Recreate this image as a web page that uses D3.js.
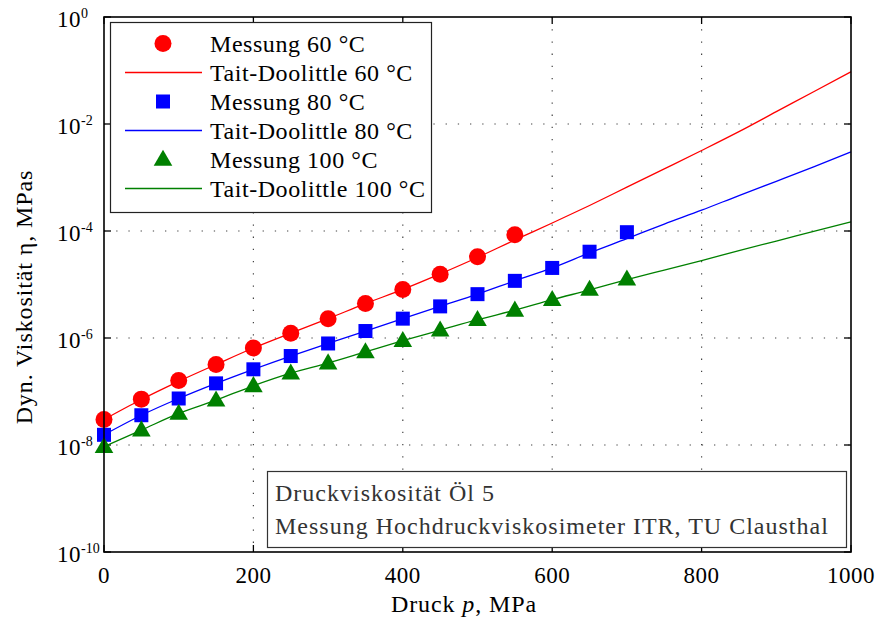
<!DOCTYPE html>
<html>
<head>
<meta charset="utf-8">
<script src="https://cdn.jsdelivr.net/npm/d3@7"></script>
<style>
    body { margin: 0; background: #fff; }
    svg text { font-family: "Palatino Linotype", "Book Antiqua", Palatino, "Liberation Serif", serif; fill: #000; }
    .label { font-size: 24px; letter-spacing: 0.9px; }
    .legend-label { font-size: 24px; letter-spacing: 0.55px; }
    .info-label { font-size: 24px; letter-spacing: 1px; }
    .tick-label { font-size: 23px; letter-spacing: 0.5px; }
    .grid line { stroke: #444; stroke-width: 1.2; stroke-dasharray: 1.3 10.9; }
</style>
</head>
<body>
<svg id="chart" width="876" height="624"></svg>
<script>
// measured points (pressure in MPa, viscosity in MPas)
const pMeas60 = [0, 50, 100, 150, 200, 250, 300, 350, 400, 450, 500, 550]
const etaMeas60 = [3.0e-8, 7.2e-8, 1.6e-7, 3.2e-7, 6.5e-7, 1.23e-6, 2.3e-6, 4.4e-6, 8.1e-6, 1.55e-5, 3.3e-5, 8.5e-5]

const pMeas80 = [0, 50, 100, 150, 200, 250, 300, 350, 400, 450, 500, 550, 600, 650, 700]
const etaMeas80 = [1.55e-8, 3.6e-8, 7.4e-8, 1.42e-7, 2.6e-7, 4.6e-7, 7.9e-7, 1.35e-6, 2.3e-6, 3.9e-6, 6.6e-6, 1.17e-5, 2.04e-5, 4.1e-5, 9.5e-5]

const pMeas100 = [0, 50, 100, 150, 200, 250, 300, 350, 400, 450, 500, 550, 600, 650, 700]
const etaMeas100 = [9.3e-9, 1.9e-8, 3.9e-8, 6.9e-8, 1.28e-7, 2.2e-7, 3.4e-7, 5.5e-7, 8.9e-7, 1.4e-6, 2.2e-6, 3.3e-6, 5.2e-6, 8.1e-6, 1.26e-5]

const pModel = [0, 50, 100, 150, 200, 250, 300, 350, 400, 450, 500, 550, 600, 650, 700, 750, 800, 850, 900, 950, 1000]
const etaModel60 = [3.0e-8, 7.1e-8, 1.55e-7, 3.2e-7, 6.5e-7, 1.23e-6, 2.3e-6, 4.4e-6, 8.1e-6, 1.58e-5, 3.2e-5, 6.8e-5, 1.41e-4, 3.0e-4, 6.6e-4, 1.45e-3, 3.2e-3, 7.2e-3, 1.7e-2, 4.0e-2, 9.5e-2]
const etaModel80 = [1.55e-8, 3.6e-8, 7.4e-8, 1.42e-7, 2.6e-7, 4.6e-7, 7.9e-7, 1.35e-6, 2.3e-6, 3.9e-6, 6.6e-6, 1.17e-5, 2.04e-5, 3.9e-5, 7.2e-5, 1.35e-4, 2.45e-4, 4.6e-4, 8.5e-4, 1.58e-3, 3.0e-3]
const etaModel100 = [9.3e-9, 1.9e-8, 3.9e-8, 6.9e-8, 1.28e-7, 2.2e-7, 3.4e-7, 5.5e-7, 8.9e-7, 1.4e-6, 2.2e-6, 3.3e-6, 5.2e-6, 7.9e-6, 1.23e-5, 1.86e-5, 2.8e-5, 4.3e-5, 6.5e-5, 9.8e-5, 1.48e-4]

const xTicks = [0, 200, 400, 600, 800, 1000]
const yTicks = [1e0, 1e-2, 1e-4, 1e-6, 1e-8, 1e-10]
const yExponents = ["0", "-2", "-4", "-6", "-8", "-10"]

const legendLabels = ["Messung 60 °C", "Tait-Doolittle 60 °C", "Messung 80 °C", "Tait-Doolittle 80 °C", "Messung 100 °C", "Tait-Doolittle 100 °C"]
const infoLines = ["Druckviskosität Öl 5", "Messung Hochdruckviskosimeter ITR, TU Clausthal"]

const red = "#ff0000", blue = "#0000ff", green = "#008000"

const svg = d3.select("#chart")
const plotLeft = 104, plotRight = 851, plotTop = 17, plotBottom = 552

const x = d3.scaleLinear().domain([0, 1000]).range([plotLeft, plotRight])
const y = d3.scaleLog().domain([1e-10, 1]).range([plotBottom, plotTop])

// dotted grid
const grid = svg.append("g").attr("class", "grid")
grid.selectAll(".gx").data(xTicks.slice(1, -1)).enter().append("line")
    .attr("x1", d => x(d)).attr("x2", d => x(d))
    .attr("y1", plotTop).attr("y2", plotBottom)
grid.selectAll(".gy").data(yTicks.slice(1, -1)).enter().append("line")
    .attr("x1", plotLeft).attr("x2", plotRight)
    .attr("y1", d => y(d)).attr("y2", d => y(d))

// inward ticks on all sides
const ticks = svg.append("g").attr("stroke", "#000").attr("stroke-width", 1.3)
xTicks.forEach(t => {
    ticks.append("line").attr("x1", x(t)).attr("x2", x(t)).attr("y1", plotBottom).attr("y2", plotBottom - 7)
    ticks.append("line").attr("x1", x(t)).attr("x2", x(t)).attr("y1", plotTop).attr("y2", plotTop + 7)
})
yTicks.forEach(t => {
    ticks.append("line").attr("x1", plotLeft).attr("x2", plotLeft + 7).attr("y1", y(t)).attr("y2", y(t))
    ticks.append("line").attr("x1", plotRight).attr("x2", plotRight - 7).attr("y1", y(t)).attr("y2", y(t))
})

// tick labels
svg.selectAll(".xlab").data(xTicks).enter().append("text")
    .attr("class", "tick-label")
    .attr("x", d => x(d)).attr("y", 583)
    .attr("text-anchor", "middle")
    .text(d => d)

const ylab = svg.selectAll(".ylab").data(yTicks).enter().append("text")
    .attr("class", "tick-label")
    .attr("x", 57).attr("y", d => y(d) + 10)
ylab.append("tspan").text("10")
ylab.append("tspan").attr("dy", -9).style("font-size", "14px").style("letter-spacing", "0px").text((d, i) => yExponents[i])

// axis titles
const xTitle = svg.append("text").attr("class", "label")
    .attr("x", 464).attr("y", 612)
    .attr("text-anchor", "middle")
xTitle.append("tspan").text("Druck ")
xTitle.append("tspan").style("font-style", "italic").text("p")
xTitle.append("tspan").text(", MPa")

svg.append("text").attr("class", "label")
    .attr("transform", "translate(32,297) rotate(-90)")
    .attr("text-anchor", "middle")
    .text("Dyn. Viskosität η, MPas")

// model curves
const line = d3.line().x(d => x(d[0])).y(d => y(d[1])).curve(d3.curveMonotoneX)
const curves = [[etaModel60, red], [etaModel80, blue], [etaModel100, green]]
curves.forEach(c => {
    svg.append("path")
        .attr("d", line(pModel.map((p, i) => [p, c[0][i]])))
        .attr("fill", "none").attr("stroke", c[1]).attr("stroke-width", 1.3)
})

// markers
const triangle = d3.symbol().type(d3.symbolTriangle).size(150)
function drawMarker(g, kind, cx, cy, color) {
    if (kind === "circle") {
        g.append("circle").attr("cx", cx).attr("cy", cy).attr("r", 8.5).attr("fill", color)
    } else if (kind === "square") {
        g.append("rect").attr("x", cx - 7).attr("y", cy - 7).attr("width", 14).attr("height", 14).attr("fill", color)
    } else {
        g.append("path").attr("d", triangle()).attr("transform", `translate(${cx},${cy + 1})`).attr("fill", color)
    }
}
const marks = svg.append("g")
pMeas60.forEach((p, i) => drawMarker(marks, "circle", x(p), y(etaMeas60[i]), red))
pMeas80.forEach((p, i) => drawMarker(marks, "square", x(p), y(etaMeas80[i]), blue))
pMeas100.forEach((p, i) => drawMarker(marks, "triangle", x(p), y(etaMeas100[i]), green))

// frame
svg.append("rect").attr("x", plotLeft).attr("y", plotTop)
    .attr("width", plotRight - plotLeft).attr("height", plotBottom - plotTop)
    .attr("fill", "none").attr("stroke", "#000").attr("stroke-width", 1.6)

// legend
const legend = svg.append("g")
legend.append("rect").attr("x", 110.5).attr("y", 22.5).attr("width", 321).attr("height", 190)
    .attr("fill", "#fff").attr("stroke", "#222").attr("stroke-width", 1.2)
const legendKinds = ["circle", "line", "square", "line", "triangle", "line"]
const legendColors = [red, red, blue, blue, green, green]
legendLabels.forEach((label, i) => {
    const cy = 43.5 + i * 29
    if (legendKinds[i] === "line") {
        legend.append("line").attr("x1", 125).attr("x2", 202).attr("y1", cy).attr("y2", cy)
            .attr("stroke", legendColors[i]).attr("stroke-width", 1.3)
    } else {
        drawMarker(legend, legendKinds[i], 163, cy, legendColors[i])
    }
    legend.append("text").attr("class", "legend-label")
        .attr("x", 210).attr("y", cy + 8)
        .text(label)
})

// info box
const info = svg.append("g")
info.append("rect").attr("x", 267.5).attr("y", 471.5).attr("width", 579).attr("height", 76)
    .attr("fill", "#fff").attr("stroke", "#333").attr("stroke-width", 1.2)
infoLines.forEach((t, i) => {
    info.append("text").attr("class", "info-label")
        .attr("x", 275).attr("y", 501 + i * 33)
        .style("fill", "#333").text(t)
})
</script>
</body>
</html>
